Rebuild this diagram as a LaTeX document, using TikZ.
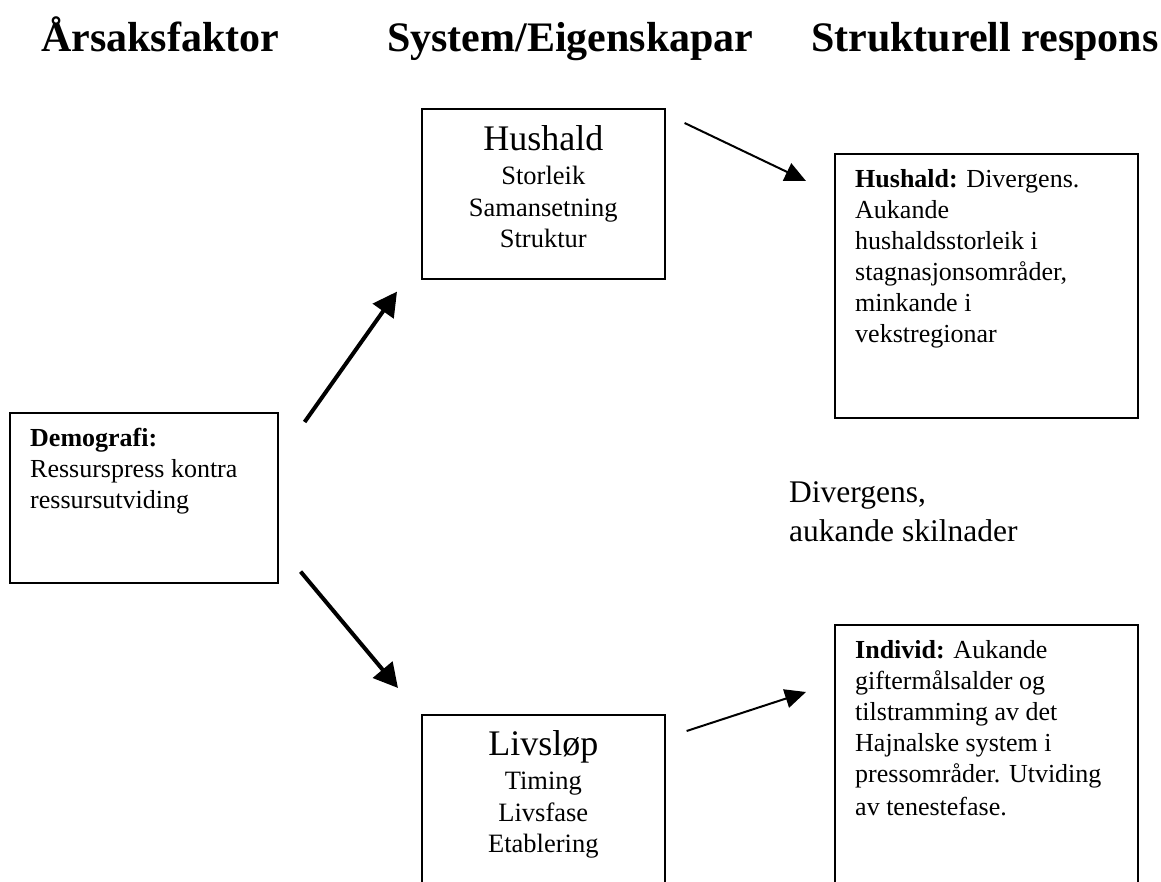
\documentclass[tikz,border=0pt]{standalone}
\usepackage{fontspec}
\setmainfont{Liberation Serif}
\usetikzlibrary{arrows.meta,positioning}

\begin{document}
\begin{tikzpicture}[x=1pt,y=-1pt,
  box/.style={draw=black,line width=1.6pt,rectangle,inner sep=0pt,anchor=north west},
  boxtext/.style={anchor=north west,inner sep=0pt,align=left,font=\fontsize{26}{31}\selectfont},
  heading/.style={anchor=base west,inner sep=0pt,font=\fontsize{42}{50}\selectfont\bfseries},
  bigarrow/.style={-{Triangle[length=24pt,width=25pt]},line width=4pt},
  smallarrow/.style={-{Triangle[length=21pt,width=19pt]},line width=2pt}]
\path[use as bounding box,clip] (0,0) rectangle (1161,882);
% column headings
\node[heading] (cause) at (41,52) {Årsaksfaktor};
\node[heading] (system) at (387,52) {System/Eigenskapar};
\node[heading] (response) at (811,52) {Strukturell respons};
% boxes
\node[box,minimum width=268pt,minimum height=170pt] (demo) at (9,412) {};
\node[box,minimum width=243pt,minimum height=170pt] (hus) at (421,108) {};
\node[box,minimum width=243pt,minimum height=200pt] (liv) at (421,714) {};
\node[box,minimum width=303pt,minimum height=264pt] (husresp) at (834,153) {};
\node[box,minimum width=303pt,minimum height=290pt] (indresp) at (834,624) {};
% texts in the boxes
\node[boxtext] (demotxt) at ([shift={(21,16)}]demo.north west) {\textbf{Demografi:}\\Ressurspress kontra\\ressursutviding};
\node[anchor=base,inner sep=0pt,font=\fontsize{36}{40}\selectfont] (hushead) at ([shift={(0,43)}]hus.north) {Hushald};
\node[anchor=north,inner sep=0pt,align=center,font=\fontsize{26.5}{31.5}\selectfont] (huslist) at ([shift={(0,58)}]hus.north) {Storleik\\Samansetning\\Struktur};
\node[anchor=base,inner sep=0pt,font=\fontsize{36}{40}\selectfont] (livhead) at ([shift={(0,41)}]liv.north) {Livsløp};
\node[anchor=north,inner sep=0pt,align=center,font=\fontsize{26.5}{31.5}\selectfont] (livlist) at ([shift={(0,58)}]liv.north) {Timing\\Livsfase\\Etablering};
\node[boxtext] (hustxt) at ([shift={(21,16)}]husresp.north west) {\textbf{Hushald:} Divergens.\\Aukande\\hushaldsstorleik i\\stagnasjonsområder,\\minkande i\\vekstregionar};
\node[boxtext] (indtxt) at ([shift={(21,16)}]indresp.north west) {\textbf{Individ:} Aukande\\giftermålsalder og\\tilstramming av det\\Hajnalske system i\\pressområder. Utviding\\[2pt]av tenestefase.};
\node[anchor=north west,inner sep=0pt,align=left,font=\fontsize{31.5}{39}\selectfont] (divtxt) at (789,481) {Divergens,\\aukande skilnader};
% arrows
\draw[bigarrow] ([shift={(26,10)}]demo.north east) -- ([shift={(-24,12)}]hus.south west);
\draw[bigarrow] ([shift={(22,-12)}]demo.south east) -- ([shift={(-23,-26)}]liv.north west);
\draw[smallarrow] ([shift={(19,15)}]hus.north east) -- ([shift={(-28,28)}]husresp.north west);
\draw[smallarrow] ([shift={(21,17)}]liv.north east) -- ([shift={(-28,68)}]indresp.north west);
\end{tikzpicture}
\end{document}
